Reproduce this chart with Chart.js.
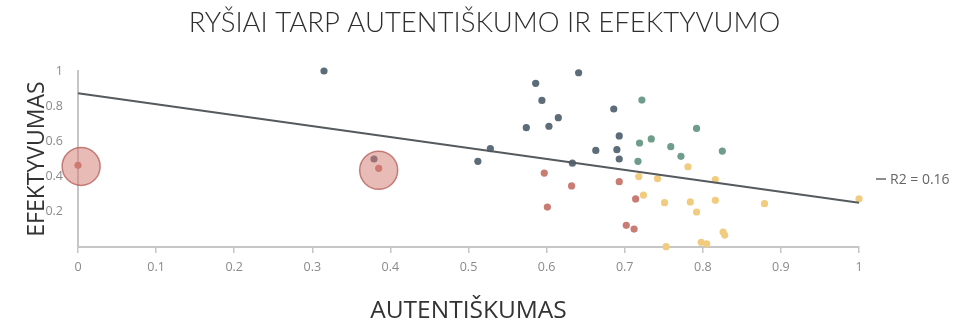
<!DOCTYPE html>
<html>
<head>
<meta charset="utf-8">
<script src="https://cdn.jsdelivr.net/npm/chart.js@4"></script>
<style>
  html, body { margin: 0; padding: 0; background: #ffffff; }
  #wrap { width: 969px; height: 330px; }
</style>
</head>
<body>
<div id="wrap"><canvas id="c" width="969" height="330"></canvas></div>
<script>
// ---- data ----
const chartTitle = 'RYŠIAI TARP AUTENTIŠKUMO IR EFEKTYVUMO';
const xAxisTitle = 'AUTENTIŠKUMAS';
const yAxisTitle = 'EFEKTYVUMAS';
const rSquared = 0.16;

const slateX = [0.315, 0.586, 0.641, 0.594, 0.615, 0.574, 0.603, 0.686, 0.693, 0.663, 0.690, 0.693, 0.528, 0.512, 0.633, 0.379];
const slateY = [1.000, 0.930, 0.990, 0.833, 0.735, 0.678, 0.686, 0.784, 0.631, 0.549, 0.553, 0.500, 0.559, 0.487, 0.476, 0.500];

const redX = [0.000, 0.385, 0.597, 0.632, 0.601, 0.693, 0.714, 0.702, 0.712];
const redY = [0.464, 0.447, 0.420, 0.347, 0.227, 0.371, 0.273, 0.123, 0.102];

const greenX = [0.722, 0.792, 0.734, 0.719, 0.759, 0.772, 0.717, 0.825];
const greenY = [0.835, 0.674, 0.614, 0.591, 0.570, 0.515, 0.487, 0.545];

const yellowX = [0.781, 0.718, 0.742, 0.816, 0.724, 0.751, 0.784, 0.792, 0.816, 0.753, 0.798, 0.805, 0.879, 0.826, 0.828, 1.000];
const yellowY = [0.456, 0.400, 0.388, 0.383, 0.295, 0.252, 0.256, 0.199, 0.265, 0.002, 0.027, 0.018, 0.246, 0.085, 0.068, 0.274];

const highlightX = [0.004, 0.385];
const highlightY = [0.458, 0.436];

const trendX = [0, 1];
const trendY = [0.873, 0.252];

const xTicks = [0, 0.1, 0.2, 0.3, 0.4, 0.5, 0.6, 0.7, 0.8, 0.9, 1];
const yTicks = [0.2, 0.4, 0.6, 0.8, 1];

// ---- build ----
const pts = (xs, ys) => xs.map((x, i) => ({ x: x, y: ys[i] }));

const r2Label = {
  id: 'r2Label',
  afterDraw(chart) {
    const { ctx, chartArea } = chart;
    ctx.save();
    ctx.fillStyle = '#666666';
    ctx.strokeStyle = '#666666';
    ctx.lineWidth = 1.5;
    const x0 = chartArea.right + 17, y0 = 179;
    ctx.beginPath();
    ctx.moveTo(x0, y0);
    ctx.lineTo(x0 + 10, y0);
    ctx.stroke();
    ctx.font = '14px "Open Sans", sans-serif';
    ctx.textBaseline = 'middle';
    ctx.textAlign = 'left';
    ctx.fillText('R2 = ' + rSquared.toFixed(2), x0 + 14, y0 + 1);
    ctx.restore();
  }
};

const dot = (color, xs, ys, order) => ({
  type: 'scatter',
  data: pts(xs, ys),
  backgroundColor: color,
  borderColor: color,
  borderWidth: 0,
  pointRadius: 3.6,
  clip: false,
  order: order
});

new Chart(document.getElementById('c'), {
  type: 'scatter',
  data: {
    datasets: [
      {
        type: 'scatter',
        data: pts(highlightX, highlightY),
        backgroundColor: 'rgba(212, 120, 112, 0.5)',
        borderColor: 'rgba(180, 90, 84, 0.75)',
        borderWidth: 1.5,
        pointRadius: 19,
        clip: false,
        order: 0
      },
      {
        type: 'line',
        data: pts(trendX, trendY),
        borderColor: '#555a5e',
        borderWidth: 2,
        pointRadius: 0,
        fill: false,
        showLine: true,
        clip: false,
        order: 1
      },
      dot('#5c6c79', slateX, slateY, 2),
      dot('#c97c73', redX, redY, 3),
      dot('#6f9c8b', greenX, greenY, 4),
      dot('#f1cc7f', yellowX, yellowY, 5)
    ]
  },
  options: {
    responsive: false,
    devicePixelRatio: 1,
    animation: false,
    layout: { padding: { left: 0, right: 0, top: 0, bottom: 0 } },
    plugins: {
      legend: { display: false },
      tooltip: { enabled: false },
      title: {
        display: true,
        text: chartTitle,
        color: '#2e2e2e',
        font: { family: 'Lato, "Open Sans", sans-serif', size: 27.5, weight: 300 },
        padding: { top: 7, bottom: 31 }
      }
    },
    scales: {
      x: {
        type: 'linear',
        min: 0, max: 1,
        afterBuildTicks: (s) => { s.ticks = xTicks.map(v => ({ value: v })); },
        afterFit: (s) => { s.height = 83; },
        ticks: {
          color: '#8a8a8a',
          font: { family: '"Open Sans", sans-serif', size: 12.5 },
          padding: 7,
          maxRotation: 0,
          callback: (v) => String(Math.round(v * 10) / 10)
        },
        grid: { display: true, drawOnChartArea: false, drawTicks: true, tickLength: 6, color: '#c6c6c6', lineWidth: 1.5 },
        border: { display: true, color: '#c6c6c6', width: 2 },
        title: {
          display: true,
          text: xAxisTitle,
          color: '#333333',
          font: { family: '"Open Sans", sans-serif', size: 24.5 },
          padding: { top: 0, bottom: 4 }
        }
      },
      y: {
        type: 'linear',
        min: 0, max: 1,
        afterBuildTicks: (s) => { s.ticks = [0].concat(yTicks).map(v => ({ value: v })); },
        afterFit: (s) => { s.width = 78; },
        ticks: {
          color: '#8a8a8a',
          font: { family: '"Open Sans", sans-serif', size: 12.5 },
          padding: 15,
          callback: (v) => (v === 0 ? '' : String(Math.round(v * 10) / 10))
        },
        grid: { display: true, drawOnChartArea: false, drawTicks: false, color: '#c6c6c6' },
        border: { display: true, color: '#c6c6c6', width: 2 },
        title: {
          display: true,
          text: yAxisTitle,
          color: '#333333',
          font: { family: '"Open Sans", sans-serif', size: 23 },
          padding: { top: 24, bottom: 0 }
        }
      },
      yRightSpace: {
        type: 'linear',
        position: 'right',
        display: true,
        afterFit: (s) => { s.width = 110; },
        ticks: { display: false },
        grid: { display: false, drawTicks: false },
        border: { display: false },
        title: { display: false }
      }
    }
  },
  plugins: [r2Label]
});
</script>
</body>
</html>
